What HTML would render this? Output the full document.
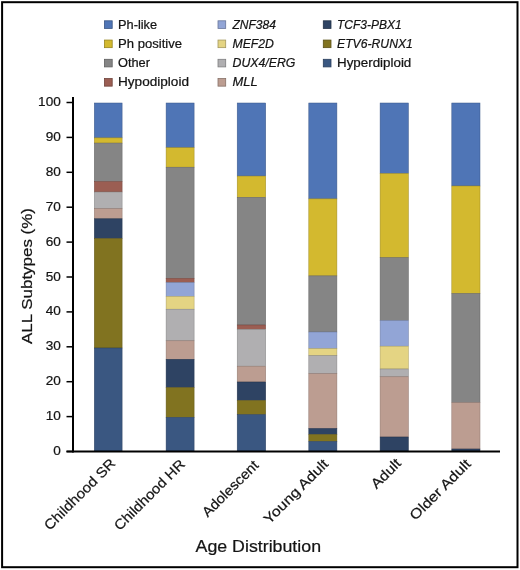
<!DOCTYPE html>
<html><head><meta charset="utf-8"><style>
html,body{margin:0;padding:0;background:#fff;}
body{width:520px;height:570px;overflow:hidden;position:relative;}
svg{position:absolute;left:0;top:0;will-change:transform;}
text{font-family:"Liberation Sans",sans-serif;fill:#141414;stroke:#141414;stroke-width:0.22px;}
.tk{font-size:13.6px;}
.lg{font-size:12px;}
.xl{font-size:14px;}
.ttl{font-size:16.5px;}
.yttl{font-size:15.5px;}
</style></head><body>
<svg width="520" height="570" viewBox="0 0 520 570">
<rect x="2.1" y="2.2" width="515.4" height="565" fill="none" stroke="#000" stroke-width="2"/>
<rect x="104.50" y="20.80" width="7.7" height="7.6" fill="#4f75b6" stroke="#385483" stroke-width="0.8"/>
<text id="Lphlike" x="118.0" y="28.50" class="lg" textLength="39.10" lengthAdjust="spacingAndGlyphs">Ph-like</text>
<rect x="104.50" y="40.05" width="7.7" height="7.6" fill="#d3b92f" stroke="#978521" stroke-width="0.8"/>
<text id="Lphpos" x="118.0" y="47.75" class="lg" textLength="64.00" lengthAdjust="spacingAndGlyphs">Ph positive</text>
<rect x="104.50" y="59.30" width="7.7" height="7.6" fill="#858585" stroke="#5f5f5f" stroke-width="0.8"/>
<text id="Lother" x="118.0" y="67.00" class="lg" textLength="32.00" lengthAdjust="spacingAndGlyphs">Other</text>
<rect x="104.50" y="78.55" width="7.7" height="7.6" fill="#9b5e53" stroke="#6f433b" stroke-width="0.8"/>
<text id="Lhypo" x="118.0" y="86.25" class="lg" textLength="71.00" lengthAdjust="spacingAndGlyphs">Hypodiploid</text>
<rect x="218.00" y="20.80" width="7.7" height="7.6" fill="#92a5d6" stroke="#69769a" stroke-width="0.8"/>
<text id="Lznf" x="232.5" y="28.50" class="lg" font-style="italic">ZNF384</text>
<rect x="218.00" y="40.05" width="7.7" height="7.6" fill="#e4d483" stroke="#a4985e" stroke-width="0.8"/>
<text id="Lmef" x="232.5" y="47.75" class="lg" font-style="italic" textLength="41.40" lengthAdjust="spacingAndGlyphs">MEF2D</text>
<rect x="218.00" y="59.30" width="7.7" height="7.6" fill="#b0afb1" stroke="#7e7e7f" stroke-width="0.8"/>
<text id="Ldux" x="232.5" y="67.00" class="lg" font-style="italic" textLength="62.90" lengthAdjust="spacingAndGlyphs">DUX4/ERG</text>
<rect x="218.00" y="78.55" width="7.7" height="7.6" fill="#bc9d91" stroke="#877168" stroke-width="0.8"/>
<text id="Lmll" x="232.5" y="86.25" class="lg" font-style="italic" textLength="25.10" lengthAdjust="spacingAndGlyphs">MLL</text>
<rect x="323.30" y="20.80" width="7.7" height="7.6" fill="#2e4363" stroke="#213047" stroke-width="0.8"/>
<text id="Ltcf" x="337.0" y="28.50" class="lg" font-style="italic">TCF3-PBX1</text>
<rect x="323.30" y="40.05" width="7.7" height="7.6" fill="#817320" stroke="#5c5217" stroke-width="0.8"/>
<text id="Letv" x="337.0" y="47.75" class="lg" font-style="italic" textLength="75.90" lengthAdjust="spacingAndGlyphs">ETV6-RUNX1</text>
<rect x="323.30" y="59.30" width="7.7" height="7.6" fill="#3a5781" stroke="#293e5c" stroke-width="0.8"/>
<text id="Lhyper" x="337.0" y="67.00" class="lg" textLength="74.30" lengthAdjust="spacingAndGlyphs">Hyperdiploid</text>
<rect x="94.3" y="103.0" width="27.80" height="34.90" fill="#4f75b6" stroke="#3b5788" stroke-width="0.5"/>
<rect x="94.3" y="137.9" width="27.80" height="5.20" fill="#d3b92f" stroke="#9e8a23" stroke-width="0.5"/>
<rect x="94.3" y="143.1" width="27.80" height="38.40" fill="#858585" stroke="#636363" stroke-width="0.5"/>
<rect x="94.3" y="181.5" width="27.80" height="10.50" fill="#9b5e53" stroke="#74463e" stroke-width="0.5"/>
<rect x="94.3" y="192" width="27.80" height="16.70" fill="#b0afb1" stroke="#848384" stroke-width="0.5"/>
<rect x="94.3" y="208.7" width="27.80" height="10.10" fill="#bc9d91" stroke="#8d756c" stroke-width="0.5"/>
<rect x="94.3" y="218.8" width="27.80" height="19.70" fill="#2e4363" stroke="#22324a" stroke-width="0.5"/>
<rect x="94.3" y="238.5" width="27.80" height="109.50" fill="#817320" stroke="#605618" stroke-width="0.5"/>
<rect x="94.3" y="348" width="27.80" height="103.00" fill="#3a5781" stroke="#2b4160" stroke-width="0.5"/>
<rect x="166.1" y="103.0" width="28.00" height="44.70" fill="#4f75b6" stroke="#3b5788" stroke-width="0.5"/>
<rect x="166.1" y="147.7" width="28.00" height="19.50" fill="#d3b92f" stroke="#9e8a23" stroke-width="0.5"/>
<rect x="166.1" y="167.2" width="28.00" height="111.10" fill="#858585" stroke="#636363" stroke-width="0.5"/>
<rect x="166.1" y="278.3" width="28.00" height="4.20" fill="#9b5e53" stroke="#74463e" stroke-width="0.5"/>
<rect x="166.1" y="282.5" width="28.00" height="13.90" fill="#92a5d6" stroke="#6d7ba0" stroke-width="0.5"/>
<rect x="166.1" y="296.4" width="28.00" height="12.80" fill="#e4d483" stroke="#ab9f62" stroke-width="0.5"/>
<rect x="166.1" y="309.2" width="28.00" height="31.60" fill="#b0afb1" stroke="#848384" stroke-width="0.5"/>
<rect x="166.1" y="340.8" width="28.00" height="18.50" fill="#bc9d91" stroke="#8d756c" stroke-width="0.5"/>
<rect x="166.1" y="359.3" width="28.00" height="28.20" fill="#2e4363" stroke="#22324a" stroke-width="0.5"/>
<rect x="166.1" y="387.5" width="28.00" height="29.80" fill="#817320" stroke="#605618" stroke-width="0.5"/>
<rect x="166.1" y="417.3" width="28.00" height="33.70" fill="#3a5781" stroke="#2b4160" stroke-width="0.5"/>
<rect x="237.2" y="103.0" width="28.50" height="73.10" fill="#4f75b6" stroke="#3b5788" stroke-width="0.5"/>
<rect x="237.2" y="176.1" width="28.50" height="21.20" fill="#d3b92f" stroke="#9e8a23" stroke-width="0.5"/>
<rect x="237.2" y="197.3" width="28.50" height="127.70" fill="#858585" stroke="#636363" stroke-width="0.5"/>
<rect x="237.2" y="325" width="28.50" height="4.30" fill="#9b5e53" stroke="#74463e" stroke-width="0.5"/>
<rect x="237.2" y="329.3" width="28.50" height="36.90" fill="#b0afb1" stroke="#848384" stroke-width="0.5"/>
<rect x="237.2" y="366.2" width="28.50" height="15.80" fill="#bc9d91" stroke="#8d756c" stroke-width="0.5"/>
<rect x="237.2" y="382" width="28.50" height="18.40" fill="#2e4363" stroke="#22324a" stroke-width="0.5"/>
<rect x="237.2" y="400.4" width="28.50" height="14.20" fill="#817320" stroke="#605618" stroke-width="0.5"/>
<rect x="237.2" y="414.6" width="28.50" height="36.40" fill="#3a5781" stroke="#2b4160" stroke-width="0.5"/>
<rect x="308.8" y="103.0" width="28.10" height="95.90" fill="#4f75b6" stroke="#3b5788" stroke-width="0.5"/>
<rect x="308.8" y="198.9" width="28.10" height="77.00" fill="#d3b92f" stroke="#9e8a23" stroke-width="0.5"/>
<rect x="308.8" y="275.9" width="28.10" height="56.10" fill="#858585" stroke="#636363" stroke-width="0.5"/>
<rect x="308.8" y="332.0" width="28.10" height="16.60" fill="#92a5d6" stroke="#6d7ba0" stroke-width="0.5"/>
<rect x="308.8" y="348.6" width="28.10" height="7.10" fill="#e4d483" stroke="#ab9f62" stroke-width="0.5"/>
<rect x="308.8" y="355.7" width="28.10" height="18.00" fill="#b0afb1" stroke="#848384" stroke-width="0.5"/>
<rect x="308.8" y="373.7" width="28.10" height="54.80" fill="#bc9d91" stroke="#8d756c" stroke-width="0.5"/>
<rect x="308.8" y="428.5" width="28.10" height="5.90" fill="#2e4363" stroke="#22324a" stroke-width="0.5"/>
<rect x="308.8" y="434.4" width="28.10" height="7.00" fill="#817320" stroke="#605618" stroke-width="0.5"/>
<rect x="308.8" y="441.4" width="28.10" height="9.60" fill="#3a5781" stroke="#2b4160" stroke-width="0.5"/>
<rect x="380.1" y="103.0" width="28.30" height="70.50" fill="#4f75b6" stroke="#3b5788" stroke-width="0.5"/>
<rect x="380.1" y="173.5" width="28.30" height="84.10" fill="#d3b92f" stroke="#9e8a23" stroke-width="0.5"/>
<rect x="380.1" y="257.6" width="28.30" height="62.90" fill="#858585" stroke="#636363" stroke-width="0.5"/>
<rect x="380.1" y="320.5" width="28.30" height="25.70" fill="#92a5d6" stroke="#6d7ba0" stroke-width="0.5"/>
<rect x="380.1" y="346.2" width="28.30" height="22.80" fill="#e4d483" stroke="#ab9f62" stroke-width="0.5"/>
<rect x="380.1" y="369" width="28.30" height="7.80" fill="#b0afb1" stroke="#848384" stroke-width="0.5"/>
<rect x="380.1" y="376.8" width="28.30" height="60.20" fill="#bc9d91" stroke="#8d756c" stroke-width="0.5"/>
<rect x="380.1" y="437" width="28.30" height="14.00" fill="#2e4363" stroke="#22324a" stroke-width="0.5"/>
<rect x="451.8" y="103.0" width="28.20" height="83.00" fill="#4f75b6" stroke="#3b5788" stroke-width="0.5"/>
<rect x="451.8" y="186" width="28.20" height="107.50" fill="#d3b92f" stroke="#9e8a23" stroke-width="0.5"/>
<rect x="451.8" y="293.5" width="28.20" height="109.10" fill="#858585" stroke="#636363" stroke-width="0.5"/>
<rect x="451.8" y="402.6" width="28.20" height="46.40" fill="#bc9d91" stroke="#8d756c" stroke-width="0.5"/>
<rect x="451.8" y="449" width="28.20" height="2.00" fill="#2e4363" stroke="#22324a" stroke-width="0.5"/>
<line x1="73" y1="97" x2="73" y2="452.5" stroke="#000" stroke-width="2"/>
<line x1="66.5" y1="451.5" x2="500" y2="451.5" stroke="#000" stroke-width="2"/>
<line x1="66.5" y1="451.50" x2="73" y2="451.50" stroke="#000" stroke-width="1.5"/>
<text id="t0" x="60.8" y="455.00" text-anchor="end" class="tk">0</text>
<line x1="66.5" y1="416.60" x2="73" y2="416.60" stroke="#000" stroke-width="1.5"/>
<text id="t10" x="60.8" y="420.10" text-anchor="end" class="tk">10</text>
<line x1="66.5" y1="381.70" x2="73" y2="381.70" stroke="#000" stroke-width="1.5"/>
<text id="t20" x="60.8" y="385.20" text-anchor="end" class="tk">20</text>
<line x1="66.5" y1="346.80" x2="73" y2="346.80" stroke="#000" stroke-width="1.5"/>
<text id="t30" x="60.8" y="350.30" text-anchor="end" class="tk">30</text>
<line x1="66.5" y1="311.90" x2="73" y2="311.90" stroke="#000" stroke-width="1.5"/>
<text id="t40" x="60.8" y="315.40" text-anchor="end" class="tk">40</text>
<line x1="66.5" y1="277.00" x2="73" y2="277.00" stroke="#000" stroke-width="1.5"/>
<text id="t50" x="60.8" y="280.50" text-anchor="end" class="tk">50</text>
<line x1="66.5" y1="242.10" x2="73" y2="242.10" stroke="#000" stroke-width="1.5"/>
<text id="t60" x="60.8" y="245.60" text-anchor="end" class="tk">60</text>
<line x1="66.5" y1="207.20" x2="73" y2="207.20" stroke="#000" stroke-width="1.5"/>
<text id="t70" x="60.8" y="210.70" text-anchor="end" class="tk">70</text>
<line x1="66.5" y1="172.30" x2="73" y2="172.30" stroke="#000" stroke-width="1.5"/>
<text id="t80" x="60.8" y="175.80" text-anchor="end" class="tk">80</text>
<line x1="66.5" y1="137.40" x2="73" y2="137.40" stroke="#000" stroke-width="1.5"/>
<text id="t90" x="60.8" y="140.90" text-anchor="end" class="tk">90</text>
<line x1="66.5" y1="102.50" x2="73" y2="102.50" stroke="#000" stroke-width="1.5"/>
<text id="t100" x="60.8" y="106.00" text-anchor="end" class="tk">100</text>
<text id="ytl" x="32" y="276" text-anchor="middle" class="yttl" transform="rotate(-90 32 276)" textLength="135.90" lengthAdjust="spacingAndGlyphs">ALL Subtypes (%)</text>
<text id="X0" x="116.40" y="464.30" text-anchor="end" class="xl" transform="rotate(-45 116.40 464.30)" textLength="94.22" lengthAdjust="spacingAndGlyphs">Childhood SR</text>
<text id="X1" x="186.00" y="465.00" text-anchor="end" class="xl" transform="rotate(-45 186.00 465.00)" textLength="93.67" lengthAdjust="spacingAndGlyphs">Childhood HR</text>
<text id="X2" x="259.40" y="466.20" text-anchor="end" class="xl" transform="rotate(-45 259.40 466.20)" textLength="72.95" lengthAdjust="spacingAndGlyphs">Adolescent</text>
<text id="X3" x="329.20" y="464.80" text-anchor="end" class="xl" transform="rotate(-45 329.20 464.80)" textLength="84.64" lengthAdjust="spacingAndGlyphs">Young Adult</text>
<text id="X4" x="401.90" y="464.20" text-anchor="end" class="xl" transform="rotate(-45 401.90 464.20)" textLength="35.86" lengthAdjust="spacingAndGlyphs">Adult</text>
<text id="X5" x="471.60" y="464.80" text-anchor="end" class="xl" transform="rotate(-45 471.60 464.80)" textLength="79.60" lengthAdjust="spacingAndGlyphs">Older Adult</text>
<text id="xtl" x="258.3" y="551.7" text-anchor="middle" class="ttl" textLength="125.50" lengthAdjust="spacingAndGlyphs">Age Distribution</text>
</svg>
</body></html>
